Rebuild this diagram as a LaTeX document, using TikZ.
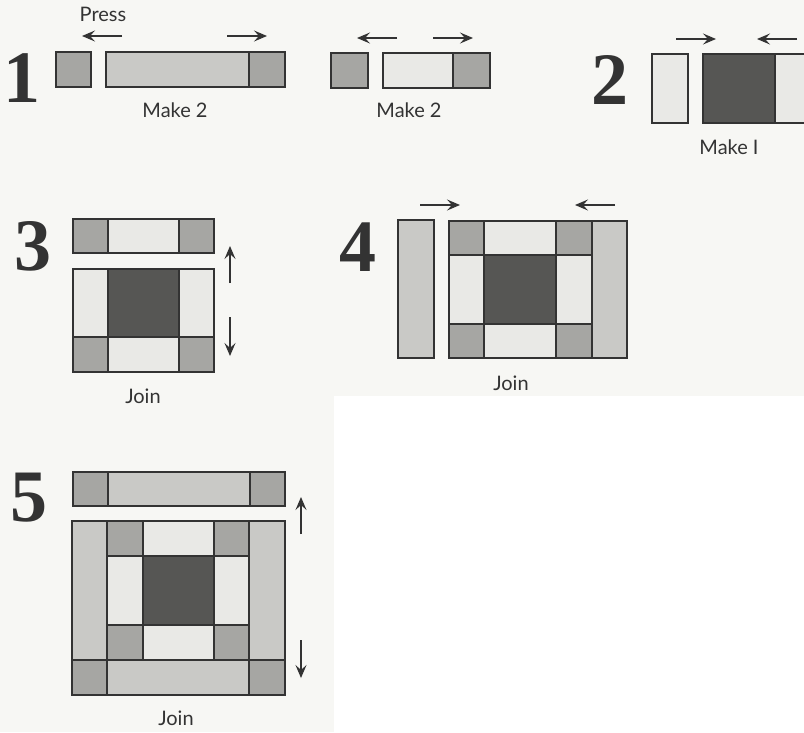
\documentclass[tikz,border=0pt]{standalone}
\usepackage{fontspec}
\setmainfont{Lato}
\newfontfamily\numfont{Liberation Serif}
\usetikzlibrary{arrows.meta}
\definecolor{paper}{HTML}{F7F7F4}
\definecolor{ink}{HTML}{333333}
\definecolor{medg}{HTML}{A6A6A3}
\definecolor{strip}{HTML}{C9C9C6}
\definecolor{lite}{HTML}{E9E9E6}
\definecolor{dark}{HTML}{565654}
\tikzset{
  x=1pt,y=-1pt,
  med/.style={draw=ink,line width=1.2pt,fill=medg},
  stp/.style={draw=ink,line width=1.2pt,fill=strip},
  lig/.style={draw=ink,line width=1.2pt,fill=lite},
  drk/.style={draw=ink,line width=1.2pt,fill=dark},
  press/.style={draw=ink,line width=1.1pt,-{Stealth[length=13pt,width=11pt,inset=5pt]}},
  lab/.style={text=ink,font=\fontsize{20}{22}\selectfont,inner sep=0pt},
  num/.style={text=ink,font=\numfont\bfseries\fontsize{74}{74}\selectfont,inner sep=0pt}
}
\newcommand{\pc}[5]{\path[#5] (#1,#2) rectangle (#3,#4);}
\begin{document}
\begin{tikzpicture}
\useasboundingbox (0,0) rectangle (804,732);
\clip (0,0) rectangle (804,732);
\fill[paper] (0,0) rectangle (804,732);
\fill[white] (334,396) rectangle (804,732);
% step 1
\node[num] (n1) at (22,78) {1};
\node[lab] (press) at (103,14.5) {Press};
\pc{56}{52}{91}{87}{med}
\pc{106}{52}{249}{87}{stp}
\pc{249}{52}{285}{87}{med}
\pc{331}{53}{368}{88}{med}
\pc{383}{53}{453}{88}{lig}
\pc{453}{53}{490}{88}{med}
\draw[press] (122,36) -- (82,36);
\draw[press] (227,36) -- (267,36);
\draw[press] (397,38) -- (357,38);
\draw[press] (433,38) -- (473,38);
\node[lab] (m1) at (175,110) {Make 2};
\node[lab] (m2) at (409,110) {Make 2};
% step 2
\node[num] (n2) at (610,80) {2};
\pc{652}{54}{688}{123}{lig}
\pc{703}{54}{775}{123}{drk}
\pc{775}{54}{815}{123}{lig}
\draw[press] (676,39) -- (716,39);
\draw[press] (797,39) -- (757,39);
\node[lab] (m3) at (729,147) {Make I};
% step 3
\node[num] (n3) at (33,246) {3};
\pc{73}{219}{108}{253}{med}
\pc{108}{219}{179}{253}{lig}
\pc{179}{219}{214}{253}{med}
\pc{73}{269}{108}{337}{lig}
\pc{108}{269}{179}{337}{drk}
\pc{179}{269}{214}{337}{lig}
\pc{73}{337}{108}{372}{med}
\pc{108}{337}{179}{372}{lig}
\pc{179}{337}{214}{372}{med}
\draw[press] (230,283) -- (230,246);
\draw[press] (230,317) -- (230,356);
\node[lab] (j3) at (143,396) {Join};
% step 4
\node[num] (n4) at (358,247) {4};
\pc{398}{220}{434}{358}{stp}
\pc{449}{221}{484}{255}{med}
\pc{484}{221}{556}{255}{lig}
\pc{556}{221}{592}{255}{med}
\pc{449}{255}{484}{324}{lig}
\pc{484}{255}{556}{324}{drk}
\pc{556}{255}{592}{324}{lig}
\pc{449}{324}{484}{358}{med}
\pc{484}{324}{556}{358}{lig}
\pc{556}{324}{592}{358}{med}
\pc{592}{221}{627}{358}{stp}
\draw[press] (420,205) -- (460,205);
\draw[press] (615,205) -- (575,205);
\node[lab] (j4) at (511,383) {Join};
% step 5
\node[num] (n5) at (29,498) {5};
\pc{73}{472}{108}{506}{med}
\pc{108}{472}{250}{506}{stp}
\pc{250}{472}{285}{506}{med}
\pc{72}{521}{107}{660}{stp}
\pc{249}{521}{285}{660}{stp}
\pc{107}{521}{143}{556}{med}
\pc{143}{521}{214}{556}{lig}
\pc{214}{521}{249}{556}{med}
\pc{107}{556}{143}{625}{lig}
\pc{143}{556}{214}{625}{drk}
\pc{214}{556}{249}{625}{lig}
\pc{107}{625}{143}{660}{med}
\pc{143}{625}{214}{660}{lig}
\pc{214}{625}{249}{660}{med}
\pc{72}{660}{107}{695}{med}
\pc{107}{660}{249}{695}{stp}
\pc{249}{660}{285}{695}{med}
\draw[press] (301,534) -- (301,497);
\draw[press] (301,640) -- (301,678);
\node[lab] (j5) at (176,718) {Join};
\end{tikzpicture}
\end{document}
